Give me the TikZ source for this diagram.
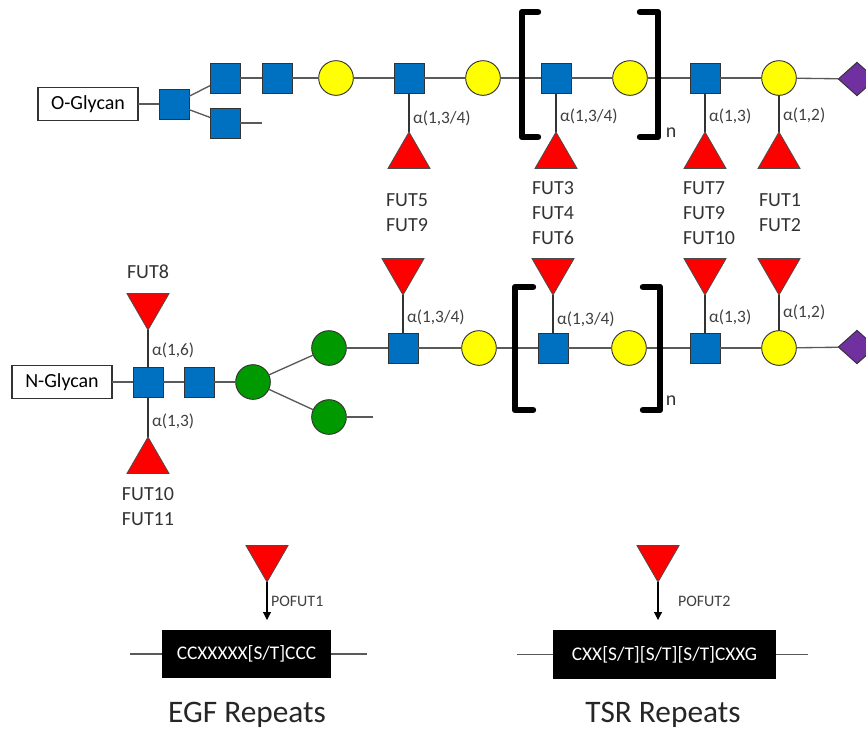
\documentclass[tikz,border=0pt]{standalone}
\usepackage{fontspec}
\setmainfont{Carlito}
\usetikzlibrary{shapes.geometric, arrows.meta, positioning, calc}
\definecolor{glcblue}{HTML}{0070C0}
\definecolor{galyellow}{HTML}{FFFF00}
\definecolor{mangreen}{HTML}{009A00}
\definecolor{fucred}{HTML}{FF0000}
\definecolor{siapurple}{HTML}{7030A0}
\definecolor{chain}{HTML}{595959}
\definecolor{labgray}{HTML}{404040}

\begin{document}
\begin{tikzpicture}[
    x=0.75pt, y=-0.75pt,
    every node/.style={inner sep=0pt, outer sep=0pt},
    glc/.style={rectangle, draw=black!80, fill=glcblue, line width=0.7pt,
                minimum size=22.5pt},
    gal/.style={circle, draw=black!80, fill=galyellow, line width=0.7pt,
                minimum size=26pt},
    man/.style={circle, draw=black!80, fill=mangreen, line width=0.7pt,
                minimum size=26pt},
    sia/.style={diamond, draw=black!80, fill=siapurple, line width=0.7pt,
                minimum width=28pt, minimum height=25pt},
    fucup/.style={regular polygon, regular polygon sides=3, draw=black!70,
                  fill=fucred, line width=0.6pt, minimum size=36.4pt},
    fucdown/.style={fucup, shape border rotate=180},
    anchorbox/.style={rectangle, draw=black!80, fill=white, line width=0.8pt,
                      minimum width=75pt, minimum height=25pt,
                      font=\fontsize{15}{17}\selectfont},
    motif/.style={rectangle, fill=black, text=white, minimum height=36.5pt,
                  font=\fontsize{14.5}{16}\selectfont},
    bond/.style={draw=chain, line width=1pt},
    link/.style={draw=black!80, line width=0.9pt},
    lab/.style={font=\fontsize{13}{15}\selectfont, text=labgray, inner sep=3pt},
    enz/.style={font=\fontsize{15}{18.75}\selectfont, text=black!80, align=left},
    bracket/.style={draw=black, line width=4.8pt, line cap=round, line join=round},
    arr/.style={-{Triangle[length=6pt, width=6pt]}, draw=black, line width=0.8pt},
    title/.style={font=\fontsize{23.5}{28}\selectfont, text=black!85}
]
\useasboundingbox (0,0) rectangle (866,729);

% O-glycan row
\node[anchorbox] (og) at (88,104) {O-Glycan};
\node[glc] (o1) at (174,104) {};
\node[glc] (o2) at (225,78) {};
\node[glc] (o3) at (225,123) {};
\coordinate (o3end) at (262,123);
\node[glc] (o4) at (277,78) {};
\node[gal] (o5) at (336,78) {};
\node[glc] (o6) at (409,78) {};
\node[gal] (o7) at (483,78) {};
\node[glc] (o8) at (556,78) {};
\node[gal] (o9) at (630,78) {};
\node[glc] (o10) at (705,78) {};
\node[gal] (o11) at (779,78) {};
\node[sia] (o12) at (857,79) {};

\node[fucup, anchor=corner 1] (of6) at (409,132) {};
\node[fucup, anchor=corner 1] (of8) at (556,132) {};
\node[fucup, anchor=corner 1] (of10) at (705,132) {};
\node[fucup, anchor=corner 1] (of11) at (779,132) {};

\node[enz, anchor=west] (oe6) at (386,213) {FUT5\\FUT9};
\node[enz, anchor=west] (oe8) at (532,213) {FUT3\\FUT4\\FUT6};
\node[enz, anchor=west] (oe10) at (683,213) {FUT7\\FUT9\\FUT10};
\node[enz, anchor=west] (oe11) at (759,213) {FUT1\\FUT2};

\draw[bond] (og) -- (o1);
\draw[bond] (o1) -- (o2);
\draw[bond] (o1) -- (o3);
\draw[bond] (o3) -- (o3end);
\draw[bond] (o2) -- (o4);
\draw[bond] (o4) -- (o5);
\draw[bond] (o5) -- (o6);
\draw[bond] (o6) -- (o7);
\draw[bond] (o7) -- (o8);
\draw[bond] (o8) -- (o9);
\draw[bond] (o9) -- (o10);
\draw[bond] (o10) -- (o11);
\draw[bond] (o11) -- (o12);
\draw[link] (o6) -- node[lab, right, pos=0.65] {α(1,3/4)} (of6.corner 1);
\draw[link] (o8) -- node[lab, right, pos=0.6] {α(1,3/4)} (of8.corner 1);
\draw[link] (o10) -- node[lab, right, pos=0.6] {α(1,3)} (of10.corner 1);
\draw[link] (o11) -- node[lab, right, pos=0.55] {α(1,2)} (of11.corner 1);

\draw[bracket] (538,12) -- (522,12) -- (522,137) -- (538,137);
\draw[bracket] (640,12) -- (658,12) -- (658,137) -- (640,137);
\node[enz] (on) at (671,133) {n};

% N-glycan row
\node[anchorbox] (ng) at (62,382) {N-Glycan};
\node[glc] (n1) at (148,382) {};
\node[glc] (n2) at (199,382) {};
\node[man] (n3) at (253,382) {};
\node[man] (n4) at (329,348) {};
\node[man] (n5) at (329,417) {};
\coordinate (n5end) at (373,417);
\node[glc] (n6) at (403,348) {};
\node[gal] (n7) at (479,348) {};
\node[glc] (n8) at (553,348) {};
\node[gal] (n9) at (629,348) {};
\node[glc] (n10) at (705,348) {};
\node[gal] (n11) at (779,348) {};
\node[sia] (n12) at (857,347) {};

\node[fucdown, anchor=corner 1] (nf1) at (148,330) {};
\node[fucup, anchor=corner 1] (nf1b) at (148,437) {};
\node[fucdown, anchor=corner 1] (nf6) at (403,295) {};
\node[fucdown, anchor=corner 1] (nf8) at (553,295) {};
\node[fucdown, anchor=corner 1] (nf10) at (705,295) {};
\node[fucdown, anchor=corner 1] (nf11) at (779,295) {};

\node[enz] (ne1) at (148,272) {FUT8};
\node[enz, align=center] (ne1b) at (148,507) {FUT10\\FUT11};

\draw[bond] (ng) -- (n1);
\draw[bond] (n1) -- (n2);
\draw[bond] (n2) -- (n3);
\draw[bond] (n3) -- (n4);
\draw[bond] (n3) -- (n5);
\draw[bond] (n5) -- (n5end);
\draw[bond] (n4) -- (n6);
\draw[bond] (n6) -- (n7);
\draw[bond] (n7) -- (n8);
\draw[bond] (n8) -- (n9);
\draw[bond] (n9) -- (n10);
\draw[bond] (n10) -- (n11);
\draw[bond] (n11) -- (n12);
\draw[link] (n1) -- node[lab, right, pos=0.45] {α(1,6)} (nf1.corner 1);
\draw[link] (n1) -- node[lab, right, pos=0.6] {α(1,3)} (nf1b.corner 1);
\draw[link] (n6) -- node[lab, right, pos=0.4] {α(1,3/4)} (nf6.corner 1);
\draw[link] (n8) -- node[lab, right, pos=0.35] {α(1,3/4)} (nf8.corner 1);
\draw[link] (n10) -- node[lab, right, pos=0.4] {α(1,3)} (nf10.corner 1);
\draw[link] (n11) -- node[lab, right, pos=0.5] {α(1,2)} (nf11.corner 1);

\draw[bracket] (533,287) -- (515,287) -- (515,410) -- (533,410);
\draw[bracket] (643,287) -- (660,287) -- (660,410) -- (643,410);
\node[enz] (nn) at (671,401) {n};

% Protein O-fucosylation
\node[fucdown, anchor=corner 1] (pf1) at (267,582) {};
\coordinate (pf1end) at (267,620);
\node[motif, minimum width=126.75pt] (egf) at (246.5,654) {CCXXXXX[S/T]CCC};
\coordinate (egfl) at (130,654);
\coordinate (egfr) at (367,654);
\node[title] (egft) at (247,715) {EGF Repeats};

\node[fucdown, anchor=corner 1] (pf2) at (658,582) {};
\coordinate (pf2end) at (658,620);
\node[motif, minimum width=167.25pt] (tsr) at (664.5,654.5) {CXX[S/T][S/T][S/T]CXXG};
\coordinate (tsrl) at (517,654.5);
\coordinate (tsrr) at (808,654.5);
\node[title] (tsrt) at (663,715) {TSR Repeats};

\draw[arr] (pf1.corner 1) -- node[lab, right, pos=0.5, font=\fontsize{12}{14}\selectfont] {POFUT1} (pf1end);
\draw[arr] (pf2.corner 1) -- node[lab, right, pos=0.5, xshift=12pt, font=\fontsize{12}{14}\selectfont] {POFUT2} (pf2end);
\draw[bond] (egfl) -- (egf);
\draw[bond] (egf) -- (egfr);
\draw[bond] (tsrl) -- (tsr);
\draw[bond] (tsr) -- (tsrr);

\end{tikzpicture}
\end{document}
